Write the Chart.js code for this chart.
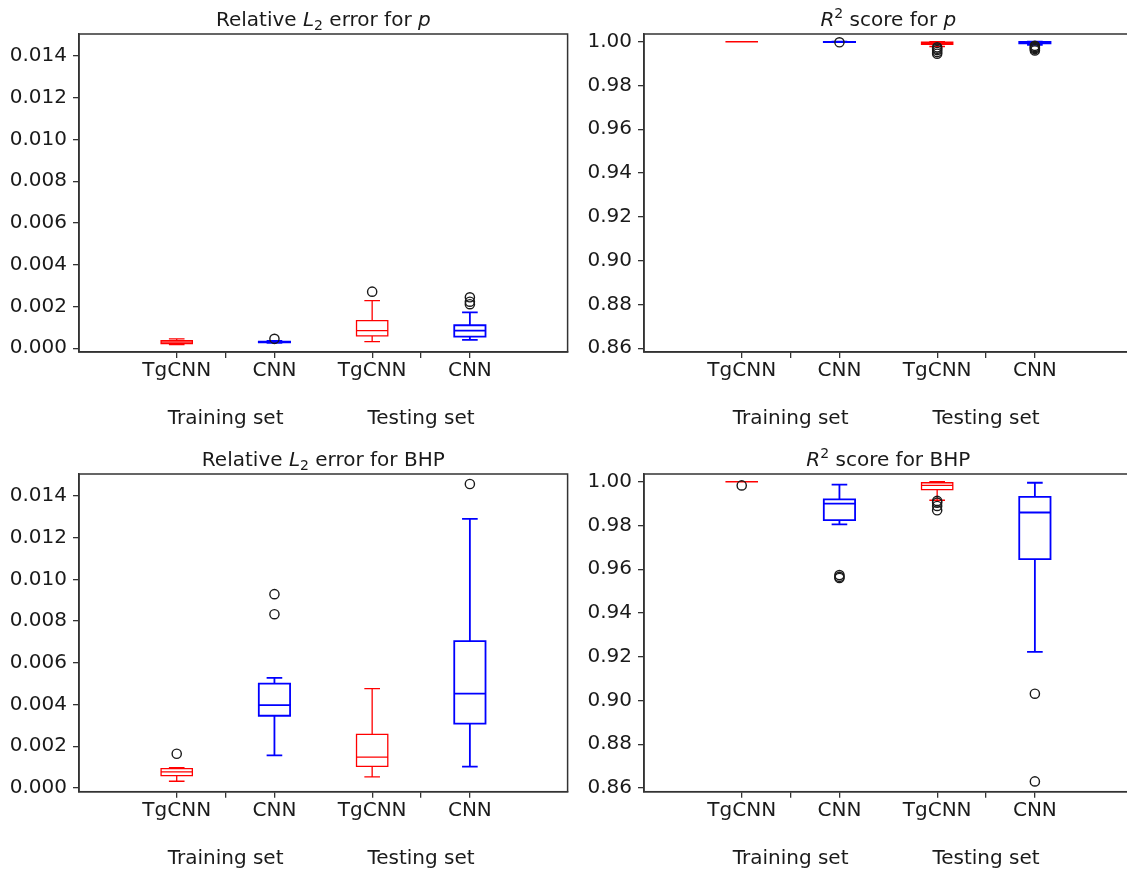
<!DOCTYPE html>
<html>
<head>
<meta charset="utf-8">
<script src="https://cdn.jsdelivr.net/npm/chart.js@4.4.0/dist/chart.umd.min.js"></script>
<style>
  html, body { margin: 0; padding: 0; background: #fff; overflow: hidden; }
  body { width: 1127px; height: 873px; position: relative; }
  .panel { position: absolute; }
</style>
</head>
<body>
<div class="panel" style="left:0;top:0"><canvas id="pL2" width="580" height="440"></canvas></div>
<div class="panel" style="left:565px;top:0"><canvas id="pR2" width="580" height="440"></canvas></div>
<div class="panel" style="left:0;top:440px"><canvas id="bhpL2" width="580" height="433"></canvas></div>
<div class="panel" style="left:565px;top:440px"><canvas id="bhpR2" width="580" height="433"></canvas></div>
<script>
// categories
const models = ["TgCNN", "CNN", "TgCNN", "CNN"];
const groups = ["Training set", "Testing set"];
const boxPositions = [1, 2, 3, 4];
const groupPositions = [1.5, 3.5];
const boxColors = ["#ff0000", "#0000ff", "#ff0000", "#0000ff"];

// box stats per model: [min, q1, median, q3, max]
const pL2Stats = [
  [0.00017, 0.00022, 0.00029, 0.00036, 0.00045],
  [0.00026, 0.00028, 0.0003, 0.00032, 0.00035],
  [0.00032, 0.00059, 0.00084, 0.00132, 0.00228],
  [0.0004, 0.00056, 0.00084, 0.0011, 0.00172],
];
const pL2Outliers = [[], [0.00045], [0.00271], [0.00244, 0.00223, 0.00211]];

const pR2Stats = [
  [0.99995, 0.99997, 0.99998, 0.99999, 1.0],
  [0.9998, 0.99985, 0.9999, 0.99993, 0.99998],
  [0.9978, 0.9988, 0.9994, 0.9998, 1.0],
  [0.9985, 0.9992, 0.9996, 0.9999, 1.0],
];
const pR2Outliers = [
  [],
  [0.9997],
  [0.9974, 0.9968, 0.9962, 0.9953, 0.9945],
  [0.9981, 0.9976, 0.9971, 0.9966, 0.996],
];

const bhpL2Stats = [
  [0.00032, 0.00059, 0.00077, 0.00093, 0.00097],
  [0.00156, 0.00346, 0.00397, 0.005, 0.00528],
  [0.00053, 0.00103, 0.00148, 0.00257, 0.00476],
  [0.00102, 0.00308, 0.00452, 0.00704, 0.0129],
];
const bhpL2Outliers = [[0.00164], [0.00929, 0.00833], [], [0.01457]];

const bhpR2Stats = [
  [0.9999, 0.99993, 0.99996, 0.99998, 1.0],
  [0.9805, 0.9824, 0.99, 0.9919, 0.9986],
  [0.9915, 0.9964, 0.9983, 0.9995, 1.0],
  [0.9222, 0.9646, 0.9859, 0.993, 0.9995],
];
const bhpR2Outliers = [
  [0.9983],
  [0.9573, 0.9565, 0.956],
  [0.9912, 0.9904, 0.9889, 0.9869],
  [0.9031, 0.863],
];

// y ticks
const l2Ticks = [0, 0.002, 0.004, 0.006, 0.008, 0.01, 0.012, 0.014];
const r2Ticks = [0.86, 0.88, 0.9, 0.92, 0.94, 0.96, 0.98, 1.0];

const FONT = "'DejaVu Sans', 'Liberation Sans', sans-serif";
const SIZE = 20;
const INK = "#1a1a1a";
const AXIS = "#333333";

const boxPlugin = {
  id: "boxes",
  beforeDatasetsDraw(chart, args, opts) {
    const { ctx } = chart;
    const xs = chart.scales.x;
    const ys = chart.scales.y;
    ctx.save();
    opts.stats.forEach(([lo, q1, med, q3, hi], i) => {
      const pos = boxPositions[i];
      const x = xs.getPixelForValue(pos);
      const half = xs.getPixelForValue(pos + opts.boxWidth / 2) - x;
      const cap = half / 2;
      const py = (v) => ys.getPixelForValue(v);
      ctx.strokeStyle = boxColors[i];
      ctx.lineWidth = boxColors[i] === "#0000ff" ? 1.8 : 1.3;
      ctx.beginPath();
      ctx.rect(x - half, py(q3), half * 2, py(q1) - py(q3));
      ctx.moveTo(x - half, py(med));
      ctx.lineTo(x + half, py(med));
      ctx.moveTo(x, py(q3));
      ctx.lineTo(x, py(hi));
      ctx.moveTo(x, py(q1));
      ctx.lineTo(x, py(lo));
      ctx.moveTo(x - cap, py(hi));
      ctx.lineTo(x + cap, py(hi));
      ctx.moveTo(x - cap, py(lo));
      ctx.lineTo(x + cap, py(lo));
      ctx.stroke();
    });
    ctx.restore();
  },
  afterDraw(chart, args, opts) {
    const { ctx, chartArea: a } = chart;
    ctx.save();
    // frame
    ctx.strokeStyle = AXIS;
    ctx.lineWidth = 1.5;
    ctx.strokeRect(a.left, a.top, a.right - a.left, a.bottom - a.top);
    // group labels
    ctx.fillStyle = INK;
    ctx.font = SIZE + "px " + FONT;
    ctx.textAlign = "center";
    ctx.textBaseline = "alphabetic";
    groupPositions.forEach((g, i) => {
      ctx.fillText(groups[i], chart.scales.x.getPixelForValue(g), a.bottom + 72);
    });
    // title with italic / sub / superscript runs
    const runs = opts.title;
    const fontFor = (s) =>
      s === "i" ? "italic " + SIZE + "px " + FONT : s === "sub" || s === "sup" ? "14px " + FONT : SIZE + "px " + FONT;
    let total = 0;
    runs.forEach(([t, s]) => {
      ctx.font = fontFor(s);
      total += ctx.measureText(t).width;
    });
    let x = (a.left + a.right) / 2 - total / 2;
    const base = a.top - 8;
    ctx.textAlign = "left";
    runs.forEach(([t, s]) => {
      ctx.font = fontFor(s);
      const dy = s === "sub" ? 4 : s === "sup" ? -8 : 0;
      ctx.fillText(t, x, base + dy);
      x += ctx.measureText(t).width;
    });
    ctx.restore();
  },
};

function makeChart(id, stats, outliers, yTicks, yMin, yMax, digits, title, axisHeight) {
  const points = [];
  outliers.forEach((list, i) => list.forEach((v) => points.push({ x: boxPositions[i], y: v })));
  const xTicks = [...boxPositions, ...groupPositions].sort((a, b) => a - b);

  return new Chart(document.getElementById(id), {
    type: "scatter",
    data: {
      datasets: [
        {
          data: points,
          pointStyle: "circle",
          pointRadius: 4.6,
          borderColor: INK,
          backgroundColor: "rgba(0,0,0,0)",
          borderWidth: 1.4,
          clip: false,
        },
      ],
    },
    options: {
      responsive: false,
      animation: false,
      events: [],
      layout: { padding: { left: 0, right: 12.4, top: 34, bottom: 0 } },
      plugins: {
        legend: { display: false },
        tooltip: { enabled: false },
        boxes: { stats, boxWidth: 0.32, title },
      },
      scales: {
        x: {
          type: "linear",
          min: 0,
          max: 5,
          afterBuildTicks: (s) => {
            s.ticks = xTicks.map((v) => ({ value: v }));
          },
          afterFit: (s) => {
            s.height = axisHeight;
          },
          ticks: {
            autoSkip: false,
            maxRotation: 0,
            padding: 1,
            color: INK,
            font: { family: FONT, size: SIZE },
            callback: (v) => {
              const i = boxPositions.indexOf(v);
              return i >= 0 ? models[i] : "";
            },
          },
          grid: { drawOnChartArea: false, tickLength: 6, color: AXIS, lineWidth: 1.3 },
          border: { display: true, color: AXIS, width: 1.5 },
        },
        y: {
          min: yMin,
          max: yMax,
          afterBuildTicks: (s) => {
            s.ticks = yTicks.map((v) => ({ value: v }));
          },
          afterFit: (s) => {
            s.width = 79;
          },
          ticks: {
            padding: 6,
            color: INK,
            font: { family: FONT, size: SIZE },
            callback: (v) => Number(v).toFixed(digits),
          },
          grid: { drawOnChartArea: false, tickLength: 6, color: AXIS, lineWidth: 1.3 },
          border: { display: true, color: AXIS, width: 1.5 },
        },
      },
    },
    plugins: [boxPlugin],
  });
}

const l2Title = (what) => [["Relative ", ""], ["L", "i"], ["2", "sub"], [" error for ", ""], [what, what === "p" ? "i" : ""]];
const r2Title = (what) => [["R", "i"], ["2", "sup"], [" score for ", ""], [what, what === "p" ? "i" : ""]];

makeChart("pL2", pL2Stats, pL2Outliers, l2Ticks, -0.00018, 0.01505, 3, l2Title("p"), 88);
makeChart("pR2", pR2Stats, pR2Outliers, r2Ticks, 0.8583, 1.0035, 2, r2Title("p"), 88);
makeChart("bhpL2", bhpL2Stats, bhpL2Outliers, l2Ticks, -0.00018, 0.01505, 3, l2Title("BHP"), 81.3);
makeChart("bhpR2", bhpR2Stats, bhpR2Outliers, r2Ticks, 0.8583, 1.0035, 2, r2Title("BHP"), 81.3);
</script>
</body>
</html>
